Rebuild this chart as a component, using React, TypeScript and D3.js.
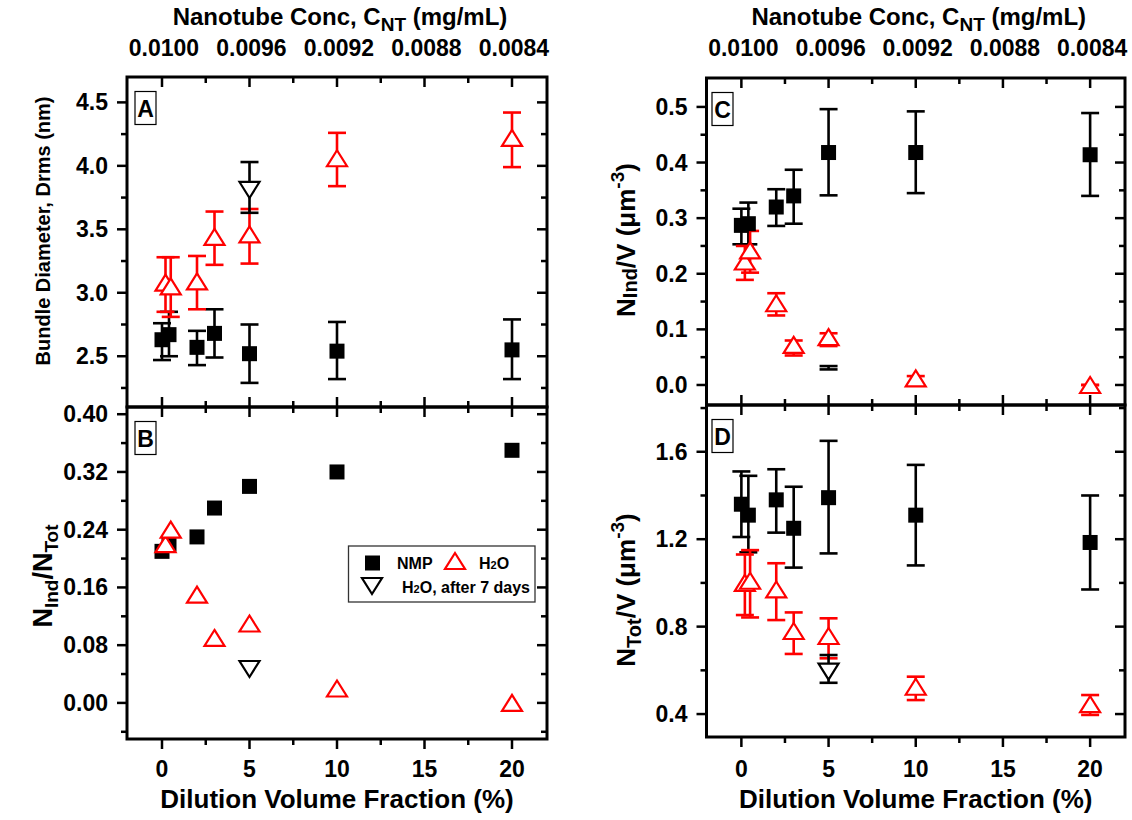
import React from 'react';
import * as d3 from 'd3';

// ---------------- data ----------------
const X_NMP = [0, 0.4, 2, 3, 5, 10, 20];
const X_H2O = [0.2, 0.5, 2, 3, 5, 10, 20];
const X_AGED = [5];

const X_MAJOR = [0, 5, 10, 15, 20];
const X_MINOR = [2.5, 7.5, 12.5, 17.5];
const TOP_LABELS = ['0.0100', '0.0096', '0.0092', '0.0088', '0.0084'];

// Panel A: bundle diameter (nm)
const A_NMP = [2.63, 2.67, 2.57, 2.68, 2.52, 2.54, 2.55];
const A_NMP_HI = [2.76, 2.85, 2.70, 2.87, 2.75, 2.77, 2.79];
const A_NMP_LO = [2.47, 2.50, 2.43, 2.49, 2.29, 2.32, 2.32];
const A_H2O = [3.08, 3.05, 3.09, 3.44, 3.46, 4.06, 4.22];
const A_H2O_HI = [3.28, 3.28, 3.29, 3.64, 3.66, 4.26, 4.42];
const A_H2O_LO = [2.85, 2.81, 2.87, 3.22, 3.23, 3.84, 3.99];
const A_AGED = [3.81];
const A_AGED_HI = [4.03];
const A_AGED_LO = [3.63];

// Panel B: N_Ind / N_Tot
const B_NMP = [0.21, 0.22, 0.23, 0.27, 0.30, 0.32, 0.35];
const B_H2O = [0.22, 0.24, 0.15, 0.09, 0.11, 0.02, 0.0];
const B_AGED = [0.047];

// Panel C: N_Ind / V
const C_NMP = [0.287, 0.29, 0.32, 0.34, 0.418, 0.418, 0.414];
const C_NMP_HI = [0.317, 0.328, 0.352, 0.387, 0.496, 0.492, 0.489];
const C_NMP_LO = [0.253, 0.253, 0.286, 0.29, 0.341, 0.345, 0.34];
const C_H2O = [0.222, 0.242, 0.147, 0.072, 0.086, 0.012, 0.0];
const C_H2O_HI = [0.25, 0.277, 0.165, 0.08, 0.093, 0.016, 0.0];
const C_H2O_LO = [0.189, 0.202, 0.125, 0.053, 0.07, 0.0, 0.0];
const C_AGED = [0.031];
const C_AGED_HI = [0.034];
const C_AGED_LO = [0.028];

// Panel D: N_Tot / V
const D_NMP = [1.36, 1.31, 1.38, 1.25, 1.39, 1.31, 1.185];
const D_NMP_HI = [1.51, 1.49, 1.52, 1.44, 1.65, 1.54, 1.40];
const D_NMP_LO = [1.21, 1.14, 1.23, 1.07, 1.135, 1.08, 0.97];
const D_H2O = [1.0, 1.01, 0.97, 0.78, 0.757, 0.525, 0.445];
const D_H2O_HI = [1.13, 1.15, 1.09, 0.865, 0.838, 0.571, 0.487];
const D_H2O_LO = [0.853, 0.842, 0.83, 0.675, 0.655, 0.464, 0.396];
const D_AGED = [0.594];
const D_AGED_HI = [0.67];
const D_AGED_LO = [0.543];

// ---------------- helpers ----------------
type Pt = { x: number; y: number; hi?: number; lo?: number };
const zip = (xs: number[], ys: number[], hi?: number[], lo?: number[]): Pt[] =>
  xs.map((x, i) => ({ x, y: ys[i], hi: hi ? hi[i] : undefined, lo: lo ? lo[i] : undefined }));

const RED = '#ff0000';
const FONT = '"Liberation Sans", Arial, sans-serif';

type Series = { pts: Pt[]; kind: 'square' | 'tri' | 'inv'; color: string; marker?: boolean };

interface Panel {
  id: string;
  x0: number; x1: number; y0: number; y1: number;
  yDomain: [number, number];
  major: number[]; minor: number[]; fmt: string;
  top: boolean;
  series: Series[];
}

const tri = (cx: number, cy: number, w: number, h: number, inv: boolean) => {
  if (!inv) return `M${cx},${cy - h / 2}L${cx + w / 2},${cy + h / 2}L${cx - w / 2},${cy + h / 2}Z`;
  return `M${cx},${cy + h / 2}L${cx + w / 2},${cy - h / 2}L${cx - w / 2},${cy - h / 2}Z`;
};

const Marker = ({ kind, cx, cy, color }: { kind: string; cx: number; cy: number; color: string }) => {
  if (kind === 'square') return <rect x={cx - 7.5} y={cy - 7.5} width={15} height={15} fill={color} />;
  return <path d={tri(cx, cy, 20, 16, kind === 'inv')} fill="#fff" stroke={color} strokeWidth={2.2} strokeLinejoin="miter" />;
};

const PanelView = ({ p }: { p: Panel }) => {
  const x = d3.scaleLinear().domain([-2, 22]).range([p.x0, p.x1]);
  const y = d3.scaleLinear().domain(p.yDomain).range([p.y1, p.y0]);
  const fmt = d3.format(p.fmt);
  const MAJ = 10, MIN = 6, TW = 2.5;
  const ticks: JSX.Element[] = [];
  [...X_MAJOR.map(v => [v, MAJ]), ...X_MINOR.map(v => [v, MIN])].forEach(([v, len], i) => {
    const px = x(v);
    ticks.push(<line key={'xt' + i} x1={px} x2={px} y1={p.y0} y2={p.y0 + len} stroke="#000" strokeWidth={TW} />);
    if (p.top) ticks.push(<line key={'xb' + i} x1={px} x2={px} y1={p.y1} y2={p.y1 - len} stroke="#000" strokeWidth={TW} />);
    else ticks.push(<line key={'xb' + i} x1={px} x2={px} y1={p.y1} y2={p.y1 + len} stroke="#000" strokeWidth={TW} />);
  });
  [...p.major.map(v => [v, MAJ]), ...p.minor.map(v => [v, MIN])].forEach(([v, len], i) => {
    const py = y(v);
    ticks.push(<line key={'yl' + i} x1={p.x0} x2={p.x0 - len} y1={py} y2={py} stroke="#000" strokeWidth={TW} />);
    ticks.push(<line key={'yr' + i} x1={p.x1} x2={p.x1 - len} y1={py} y2={py} stroke="#000" strokeWidth={TW} />);
  });
  const CAP = 9;
  const bx = p.x0 + (p.x0 < 400 ? 8 : 5.5);
  return (
    <g>
      {ticks}
      {p.major.map((v, i) => (
        <text key={'yl' + i} x={p.x0 - 19} y={y(v) + 8} textAnchor="end" fontSize={23} fontWeight="bold" fontFamily={FONT}>{fmt(v)}</text>
      ))}
      {p.series.map((s, si) => (
        <g key={'s' + si}>
          {s.pts.filter(d => d.hi !== undefined).map((d, i) => (
            <g key={i} stroke={s.color} strokeWidth={2.6}>
              <line x1={x(d.x)} x2={x(d.x)} y1={y(d.hi!)} y2={y(d.lo!)} />
              <line x1={x(d.x) - CAP} x2={x(d.x) + CAP} y1={y(d.hi!)} y2={y(d.hi!)} />
              <line x1={x(d.x) - CAP} x2={x(d.x) + CAP} y1={y(d.lo!)} y2={y(d.lo!)} />
            </g>
          ))}
        </g>
      ))}
      {p.series.map((s, si) => (
        <g key={'m' + si}>
          {s.marker !== false && s.pts.map((d, i) => <Marker key={i} kind={s.kind} cx={x(d.x)} cy={y(d.y)} color={s.color} />)}
        </g>
      ))}
      <rect x={p.x0} y={p.y0} width={p.x1 - p.x0} height={p.y1 - p.y0} fill="none" stroke="#000" strokeWidth={3} />
      <rect x={bx} y={p.y0 + 14.5} width={21} height={33} fill="#fff" stroke="#000" strokeWidth={1.2} />
      <text x={bx + 10.5} y={p.y0 + 40} textAnchor="middle" fontSize={23} fontWeight="bold" fontFamily={FONT}>{p.id}</text>
    </g>
  );
};

const range = (a: number, b: number, s: number) => d3.range(a, b + s / 2, s).map(v => +v.toFixed(4));

export default function App() {
  const L = { x0: 127, x1: 547 };
  const R = { x0: 706.5, x1: 1125 };
  const panels: Panel[] = [
    {
      id: 'A', ...L, y0: 77, y1: 407, yDomain: [2.1, 4.7],
      major: range(2.5, 4.5, 0.5), minor: range(2.25, 4.25, 0.5), fmt: '.1f', top: true,
      series: [
        { pts: zip(X_NMP, A_NMP, A_NMP_HI, A_NMP_LO), kind: 'square', color: '#000' },
        { pts: zip(X_H2O, A_H2O, A_H2O_HI, A_H2O_LO), kind: 'tri', color: RED },
        { pts: zip(X_AGED, A_AGED, A_AGED_HI, A_AGED_LO), kind: 'inv', color: '#000' },
      ],
    },
    {
      id: 'B', ...L, y0: 407, y1: 739, yDomain: [-0.05, 0.41],
      major: range(0, 0.4, 0.08), minor: range(-0.04, 0.36, 0.08), fmt: '.2f', top: false,
      series: [
        { pts: zip(X_NMP, B_NMP), kind: 'square', color: '#000' },
        { pts: zip(X_H2O, B_H2O), kind: 'tri', color: RED },
        { pts: zip(X_AGED, B_AGED), kind: 'inv', color: '#000' },
      ],
    },
    {
      id: 'C', ...R, y0: 78, y1: 405, yDomain: [-0.036, 0.552],
      major: range(0, 0.5, 0.1), minor: range(0.05, 0.45, 0.1), fmt: '.1f', top: true,
      series: [
        { pts: zip(X_NMP, C_NMP, C_NMP_HI, C_NMP_LO), kind: 'square', color: '#000' },
        { pts: zip(X_H2O, C_H2O, C_H2O_HI, C_H2O_LO), kind: 'tri', color: RED },
        { pts: zip(X_AGED, C_AGED, C_AGED_HI, C_AGED_LO), kind: 'inv', color: '#000', marker: false },
      ],
    },
    {
      id: 'D', ...R, y0: 405, y1: 737, yDomain: [0.295, 1.814],
      major: range(0.4, 1.6, 0.4), minor: range(0.6, 1.8, 0.4), fmt: '.1f', top: false,
      series: [
        { pts: zip(X_NMP, D_NMP, D_NMP_HI, D_NMP_LO), kind: 'square', color: '#000' },
        { pts: zip(X_H2O, D_H2O, D_H2O_HI, D_H2O_LO), kind: 'tri', color: RED },
        { pts: zip(X_AGED, D_AGED, D_AGED_HI, D_AGED_LO), kind: 'inv', color: '#000' },
      ],
    },
  ];

  const xs = (side: { x0: number; x1: number }) => d3.scaleLinear().domain([-2, 22]).range([side.x0, side.x1]);
  const T = { fontFamily: FONT, fontWeight: 'bold' as const };

  const topAxisText = (side: { x0: number; x1: number }, key: string) => {
    const sx = xs(side);
    const cx = (side.x0 + side.x1) / 2;
    return (
      <g key={key} {...T}>
        <text x={cx + 3} y={25} textAnchor="middle" fontSize={24}>
          Nanotube Conc, C<tspan fontSize={19} dy={6}>NT</tspan><tspan dy={-6}> (mg/mL)</tspan>
        </text>
        {X_MAJOR.map((v, i) => (
          <text key={i} x={sx(v) + 2} y={56} textAnchor="middle" fontSize={23}>{TOP_LABELS[i]}</text>
        ))}
      </g>
    );
  };
  const bottomAxisText = (side: { x0: number; x1: number }, key: string) => {
    const sx = xs(side);
    const cx = (side.x0 + side.x1) / 2;
    return (
      <g key={key} {...T}>
        {X_MAJOR.map((v, i) => (
          <text key={i} x={sx(v)} y={777} textAnchor="middle" fontSize={23}>{d3.format('d')(v)}</text>
        ))}
        <text x={cx} y={808} textAnchor="middle" fontSize={26}>Dilution Volume Fraction (%)</text>
      </g>
    );
  };

  return (
    <svg width={1132} height={820} style={{ position: 'absolute', left: 0, top: 0, background: '#fff' }}>
      <rect width={1132} height={820} fill="#fff" />
      {topAxisText(L, 'tl')}
      {topAxisText(R, 'tr')}
      {bottomAxisText(L, 'bl')}
      {bottomAxisText(R, 'br')}
      {panels.map(p => <PanelView key={p.id} p={p} />)}

      {/* y titles */}
      <g {...T}>
        <text transform="translate(50,231) rotate(-90)" textAnchor="middle" fontSize={20}>Bundle Diameter, Drms (nm)</text>
        <text transform="translate(52,576) rotate(-90)" textAnchor="middle" fontSize={27}>
          N<tspan fontSize={19} dy={6}>Ind</tspan><tspan dy={-6}>/N</tspan><tspan fontSize={19} dy={6}>Tot</tspan>
        </text>
        <text transform="translate(635,240) rotate(-90)" textAnchor="middle" fontSize={26}>
          N<tspan fontSize={20} dy={2}>Ind</tspan><tspan dy={-2}>/V (μm</tspan><tspan fontSize={19} dy={-11}>-3</tspan><tspan dy={11}>)</tspan>
        </text>
        <text transform="translate(635,590) rotate(-90)" textAnchor="middle" fontSize={26}>
          N<tspan fontSize={20} dy={6}>Tot</tspan><tspan dy={-6}>/V (μm</tspan><tspan fontSize={19} dy={-11}>-3</tspan><tspan dy={11}>)</tspan>
        </text>
      </g>

      {/* legend */}
      <g {...T} fontSize={16}>
        <rect x={348.5} y={546} width={186.5} height={56} fill="#fff" stroke="#333" strokeWidth={1.3} />
        <Marker kind="square" cx={372.5} cy={563} color="#000" />
        <text x={397} y={569}>NMP</text>
        <Marker kind="tri" cx={455} cy={561} color={RED} />
        <text x={479} y={569}>H<tspan fontSize={11}>2</tspan>O</text>
        <Marker kind="inv" cx={372} cy={586} color="#000" />
        <text x={402} y={593}>H<tspan fontSize={11}>2</tspan>O, after 7 days</text>
      </g>
    </svg>
  );
}
